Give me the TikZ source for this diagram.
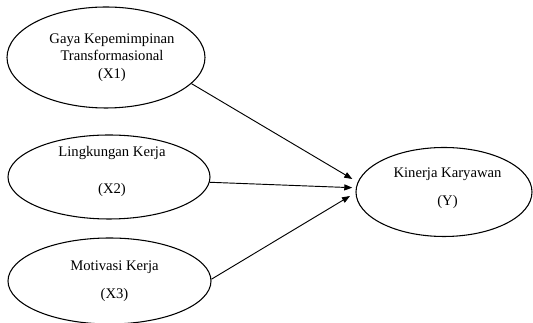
\documentclass[tikz,border=0pt]{standalone}
\usepackage{fontspec}
\setmainfont{Liberation Serif}
\usepackage{tikz}
\usetikzlibrary{shapes.geometric, arrows.meta}
\tikzstyle{canvas} = [x = 0.75pt, y = -0.75pt]
\tikzstyle{variableStyle} = [ellipse, draw=black, line width=0.8pt, inner sep=0pt]
\tikzstyle{variableText} = [align=center, font=\fontsize{11}{13}\selectfont, inner sep=0pt]
\tikzstyle{pathArrow} = [-{Triangle[length=6pt, width=4.5pt]}, line width=0.7pt]
\newcommand{\variable}[4]{\node [variableStyle, minimum width=#3, minimum height=#4] (#1) at (#2) {};}

\begin{document}
\begin{tikzpicture}[canvas]
  \useasboundingbox (0,0) rectangle (533,323);
  % exogenous variables
  \variable{gaya}{106,57.5}{148.5pt}{75.75pt}
  \variable{lingkungan}{109,177}{151.5pt}{63pt}
  \variable{motivasi}{109.5,281}{152.25pt}{64.5pt}
  % endogenous variable
  \variable{kinerja}{444,192}{132pt}{66.75pt}

  \node [variableText] (gayaText) at (112,57.5) {Gaya Kepemimpinan\\Transformasional\\(X1)};
  \node [variableText] (lingkunganText) at (112,171.5) {Lingkungan Kerja\\[14.75pt](X2)};
  \node [variableText] (motivasiText) at (114.5,281) {Motivasi Kerja\\[8pt](X3)};
  \node [variableText] (kinerjaText) at (447.5,188) {Kinerja Karyawan\\[8pt](Y)};

  \coordinate (kinerjaInA) at (352.3,179);
  \coordinate (kinerjaInB) at (352.3,187.7);
  \coordinate (kinerjaInC) at (350,196);
  \draw [pathArrow] (gaya.-17) -- (kinerjaInA);
  \draw [pathArrow] (lingkungan.-3) -- (kinerjaInB);
  \draw [pathArrow] (motivasi.1) -- (kinerjaInC);
\end{tikzpicture}
\end{document}
